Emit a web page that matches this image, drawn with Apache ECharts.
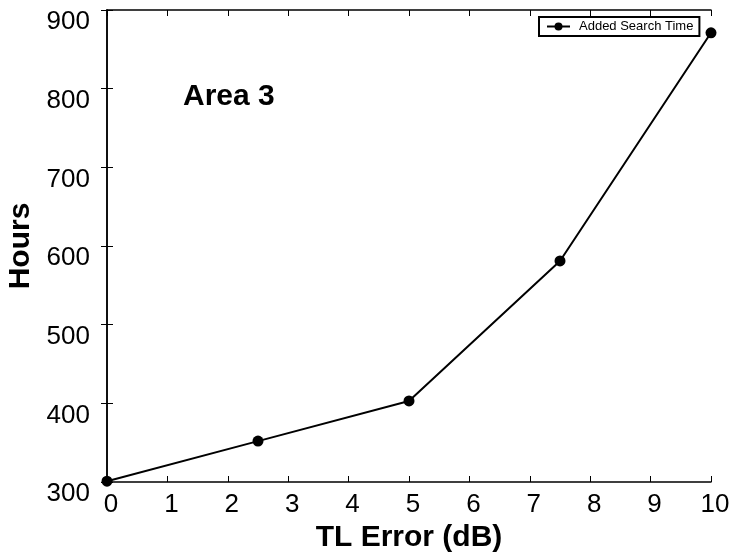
<!DOCTYPE html>
<html>
<head>
<meta charset="utf-8">
<script src="https://cdn.jsdelivr.net/npm/echarts@6/dist/echarts.min.js"></script>
<style>html,body{margin:0;padding:0;background:#fff;}#c{width:737px;height:552px;}</style>
</head>
<body>
<div id="c"></div>
<script>
var xValues = [0, 2.5, 5, 7.5, 10];
var hours = [301, 352, 403, 581, 871];
var seriesName = 'Added Search Time';
var xTitle = 'TL Error (dB)';
var yTitle = 'Hours';
var annotation = 'Area 3';

var FONT = 'Liberation Sans, Arial, sans-serif';
var chart = echarts.init(document.getElementById('c'), null, {renderer: 'canvas'});
var data = xValues.map(function (x, i) { return [x, hours[i]]; });
var axisLineStyle = {show: true, lineStyle: {color: '#000', width: 1.5}};
var tick = {show: true, inside: true, length: 6, lineStyle: {color: '#000', width: 1}};

chart.setOption({
  animation: false,
  backgroundColor: '#fff',
  grid: {left: 107, right: 26, top: 10, bottom: 70, containLabel: false, outerBoundsMode: 'none'},
  legend: {
    data: [seriesName],
    left: 539, top: 17,
    padding: [3, 6, 3, 7],
    itemWidth: 23, itemHeight: 10,
    itemGap: 4,
    borderColor: '#000', borderWidth: 2,
    backgroundColor: '#fff',
    textStyle: {fontFamily: FONT, fontSize: 13, color: '#000', padding: [0, 0, 0, 4]}
  },
  xAxis: [{
    type: 'value', min: 0, max: 10, interval: 1, position: 'bottom',
    axisLine: axisLineStyle, axisTick: tick, splitLine: {show: false},
    axisLabel: {fontFamily: FONT, fontSize: 26, color: '#000', margin: 10, padding: [0, 0, 0, 8]},
    name: xTitle, nameLocation: 'middle', nameGap: 31,
    nameTextStyle: {fontFamily: FONT, fontSize: 30, fontWeight: 'bold', color: '#000'}
  }, {
    type: 'value', min: 0, max: 10, interval: 1, position: 'top',
    axisLine: axisLineStyle, axisTick: tick, axisLabel: {show: false}, splitLine: {show: false}
  }],
  yAxis: [{
    type: 'value', min: 300, max: 900, interval: 100, position: 'left',
    axisLine: axisLineStyle, axisTick: tick, splitLine: {show: false},
    axisLabel: {fontFamily: FONT, fontSize: 26, color: '#000', margin: 17, verticalAlign: 'top', lineHeight: 24},
    name: yTitle, nameLocation: 'middle', nameGap: 64, nameRotate: 90,
    nameTextStyle: {fontFamily: FONT, fontSize: 30, fontWeight: 'bold', color: '#000'}
  }, {
    type: 'value', min: 300, max: 900, interval: 100, position: 'right',
    axisLine: axisLineStyle, axisTick: tick, axisLabel: {show: false}, splitLine: {show: false}
  }],
  series: [{
    name: seriesName,
    type: 'line',
    data: data,
    symbol: 'circle',
    symbolSize: 11,
    itemStyle: {color: '#000'},
    lineStyle: {color: '#000', width: 2},
    clip: false
  }],
  graphic: [{
    type: 'text', left: 183, top: 82,
    style: {text: annotation, font: 'bold 30px ' + FONT, fill: '#000'}
  }]
});
</script>
</body>
</html>
